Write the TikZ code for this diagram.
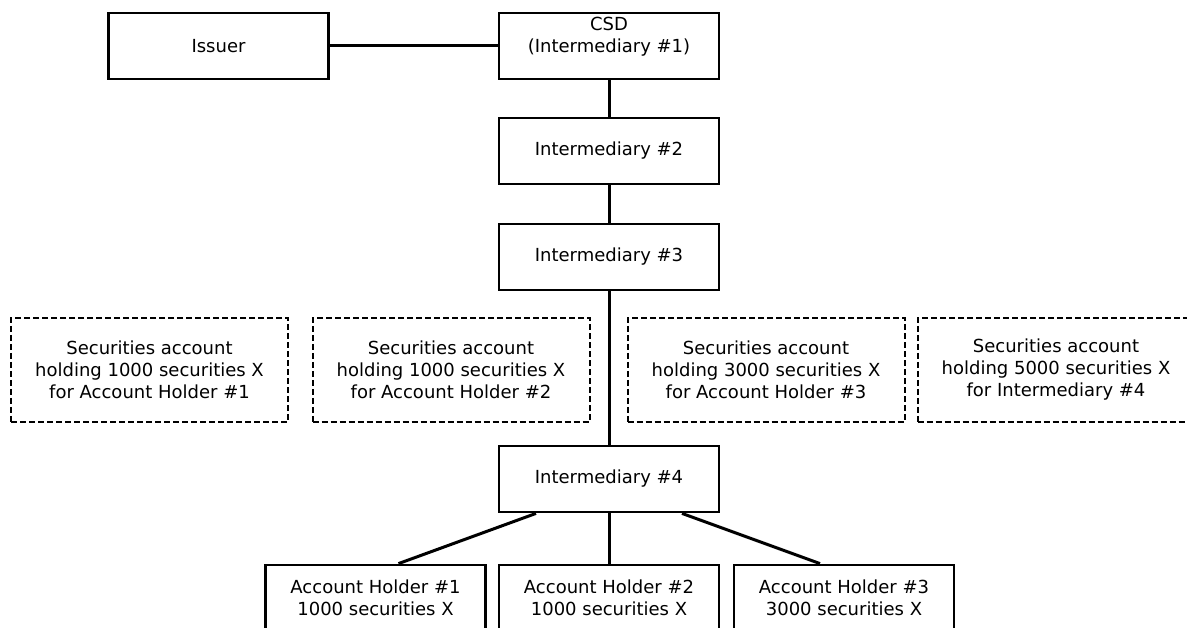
\documentclass[tikz,border=0pt]{standalone}
\usepackage{fontspec}
\setmainfont{DejaVu Sans}
\usepackage{tikz}
\tikzset{
  box/.style={draw,line width=2.8pt,minimum width=220pt,minimum height=66pt,inner sep=0pt,align=center,font=\fontsize{18}{22}\selectfont},
  account/.style={draw,line width=2pt,dash pattern=on 6pt off 3pt,minimum width=277pt,minimum height=104pt,inner sep=0pt,align=center,font=\fontsize{18}{22}\selectfont},
  link/.style={line width=3pt}
}

\begin{document}
\begin{tikzpicture}[x=1pt,y=-1pt]
            \useasboundingbox (0,0) rectangle (1187,628);
            \clip (0,0) rectangle (1187,628);
            \node[box] (Iss) at (218.5,46) {Issuer};
            \node[box] (CSD) at (609,46) {CSD\\(Intermediary \#1)\\\mbox{}};
            \node[box] (I2) at (609,151) {Intermediary \#2};
            \node[box] (I3) at (609,257) {Intermediary \#3};
            \node[box] (I4) at (609,479) {Intermediary \#4};
            \node[account] (S1) at (149.5,370) {Securities account\\holding 1000 securities X\\for Account Holder \#1};
            \node[account] (S2) at (451,370) {Securities account\\holding 1000 securities X\\for Account Holder \#2};
            \node[account] (S3) at (766,370) {Securities account\\holding 3000 securities X\\for Account Holder \#3};
            \node[account] (S4) at (1056,370) {Securities account\\holding 5000 securities X\\for Intermediary \#4};
            \node[box] (H1) at (375.5,598) {Account Holder \#1\\1000 securities X};
            \node[box] (H2) at (609,598) {Account Holder \#2\\1000 securities X};
            \node[box] (H3) at (844,598) {Account Holder \#3\\3000 securities X};

            \draw[link] (Iss) -- (CSD);
            \draw[link] (CSD) -- (I2);
            \draw[link] (I2) -- (I3);
            \draw[link] (I3) -- (I4);
            \draw[link] ([xshift=-73pt]I4.south) -- ([xshift=23pt]H1.north);
            \draw[link] (I4) -- (H2);
            \draw[link] ([xshift=73pt]I4.south) -- ([xshift=-24pt]H3.north);
\end{tikzpicture}
\end{document}
